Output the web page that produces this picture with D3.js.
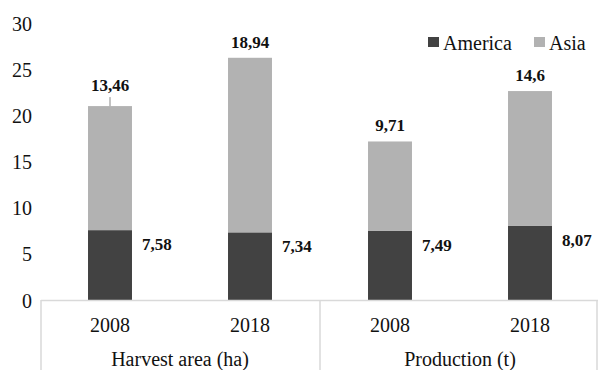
<!DOCTYPE html>
<html>
<head>
<meta charset="utf-8">
<script src="https://cdn.jsdelivr.net/npm/d3@7"></script>
<style>
  html, body { margin: 0; padding: 0; background: #fff; }
  svg { display: block; }
  text { font-family: "Liberation Serif", "Times New Roman", serif; fill: #111; }
</style>
</head>
<body>
<svg id="chart" width="598" height="370"></svg>
<script>
// Data: two indicators, each measured in 2008 and 2018, split by region
const groups = ["Harvest area (ha)", "Production (t)"];
const years = ["2008", "2018"];
const america = [7.58, 7.34, 7.49, 8.07];
const asia = [13.46, 18.94, 9.71, 14.6];
const americaLabels = ["7,58", "7,34", "7,49", "8,07"];
const asiaLabels = ["13,46", "18,94", "9,71", "14,6"];
const yTicks = [0, 5, 10, 15, 20, 25, 30];
const seriesNames = ["America", "Asia"];

const colors = { America: "#424242", Asia: "#b2b2b2" };
const axisColor = "#d9d9d9";
const serif = "'Liberation Serif', 'Times New Roman', serif";

// One row per bar, keyed by group and year
const rows = [];
groups.forEach((g, gi) => years.forEach((yr, yi) => {
  const i = gi * years.length + yi;
  rows.push({ key: g + "|" + yr, group: g, year: yr,
              America: america[i], Asia: asia[i],
              amLabel: americaLabels[i], asLabel: asiaLabels[i] });
}));

const svg = d3.select("#chart");
const left = 40, right = 600, baseY = 300, topY = 23.5;

const x = d3.scaleBand().domain(rows.map(d => d.key))
  .range([left, right]).paddingInner(0.686).paddingOuter(0.343);
const xGroup = d3.scaleBand().domain(groups).range([left, right]);
const y = d3.scaleLinear().domain([0, 30]).range([baseY, topY]);

// Stacked bars
const stack = d3.stack().keys(seriesNames);
const layers = stack(rows);
svg.append("g").selectAll("g").data(layers).join("g")
  .attr("fill", d => colors[d.key])
  .selectAll("rect").data(d => d).join("rect")
  .attr("x", d => x(d.data.key))
  .attr("width", x.bandwidth())
  .attr("y", d => y(d[1]))
  .attr("height", d => y(d[0]) - y(d[1]));

// Y axis labels (no axis line)
const yAxis = d3.axisLeft(y).tickValues(yTicks).tickSize(0).tickPadding(8);
const gy = svg.append("g").attr("transform", `translate(${left},0)`).call(yAxis)
  .attr("font-family", serif).attr("font-size", 20);
gy.select(".domain").remove();
gy.selectAll("text").attr("fill", "#111").attr("dy", "0.35em");

// Baseline and group dividers
svg.append("line").attr("x1", left + 1).attr("x2", 598)
  .attr("y1", baseY + 0.5).attr("y2", baseY + 0.5)
  .attr("stroke", axisColor).attr("stroke-width", 1.5);
const dividers = [left + 1, xGroup(groups[1]), 597];
svg.append("g").selectAll("line").data(dividers).join("line")
  .attr("x1", d => d).attr("x2", d => d)
  .attr("y1", baseY).attr("y2", 370)
  .attr("stroke", axisColor).attr("stroke-width", 1.5);

// Year labels under each bar
svg.append("g").selectAll("text").data(rows).join("text")
  .attr("x", d => x(d.key) + x.bandwidth() / 2)
  .attr("y", 332)
  .attr("text-anchor", "middle").attr("font-size", 20)
  .text(d => d.year);

// Group labels
svg.append("g").selectAll("text").data(groups).join("text")
  .attr("x", d => xGroup(d) + xGroup.bandwidth() / 2)
  .attr("y", 366)
  .attr("text-anchor", "middle").attr("font-size", 20)
  .text(d => d);

// Value labels: Asia above each bar, America to the right of its segment
const lift = 5; // extra lift for the first label, drawn with a leader line
svg.append("g").selectAll("text").data(rows).join("text")
  .attr("x", d => x(d.key) + x.bandwidth() / 2)
  .attr("y", (d, i) => y(d.America + d.Asia) - 10 - (i === 0 ? lift : 0))
  .attr("text-anchor", "middle").attr("font-size", 17).attr("font-weight", "bold")
  .text(d => d.asLabel);
const first = rows[0];
svg.append("line")
  .attr("x1", x(first.key) + x.bandwidth() / 2).attr("x2", x(first.key) + x.bandwidth() / 2)
  .attr("y1", y(first.America + first.Asia) - 9).attr("y2", y(first.America + first.Asia))
  .attr("stroke", "#888").attr("stroke-width", 1);

svg.append("g").selectAll("text").data(rows).join("text")
  .attr("x", d => x(d.key) + x.bandwidth() + 10)
  .attr("y", d => y(d.America) + 20)
  .attr("font-size", 17).attr("font-weight", "bold")
  .text(d => d.amLabel);

// Legend
const legend = svg.append("g");
const legendX = [428, 534];
seriesNames.forEach((s, i) => {
  legend.append("rect").attr("x", legendX[i]).attr("y", 37)
    .attr("width", 11).attr("height", 10).attr("fill", colors[s]);
  legend.append("text").attr("x", legendX[i] + 15).attr("y", 50)
    .attr("font-size", 20).text(s);
});
</script>
</body>
</html>
